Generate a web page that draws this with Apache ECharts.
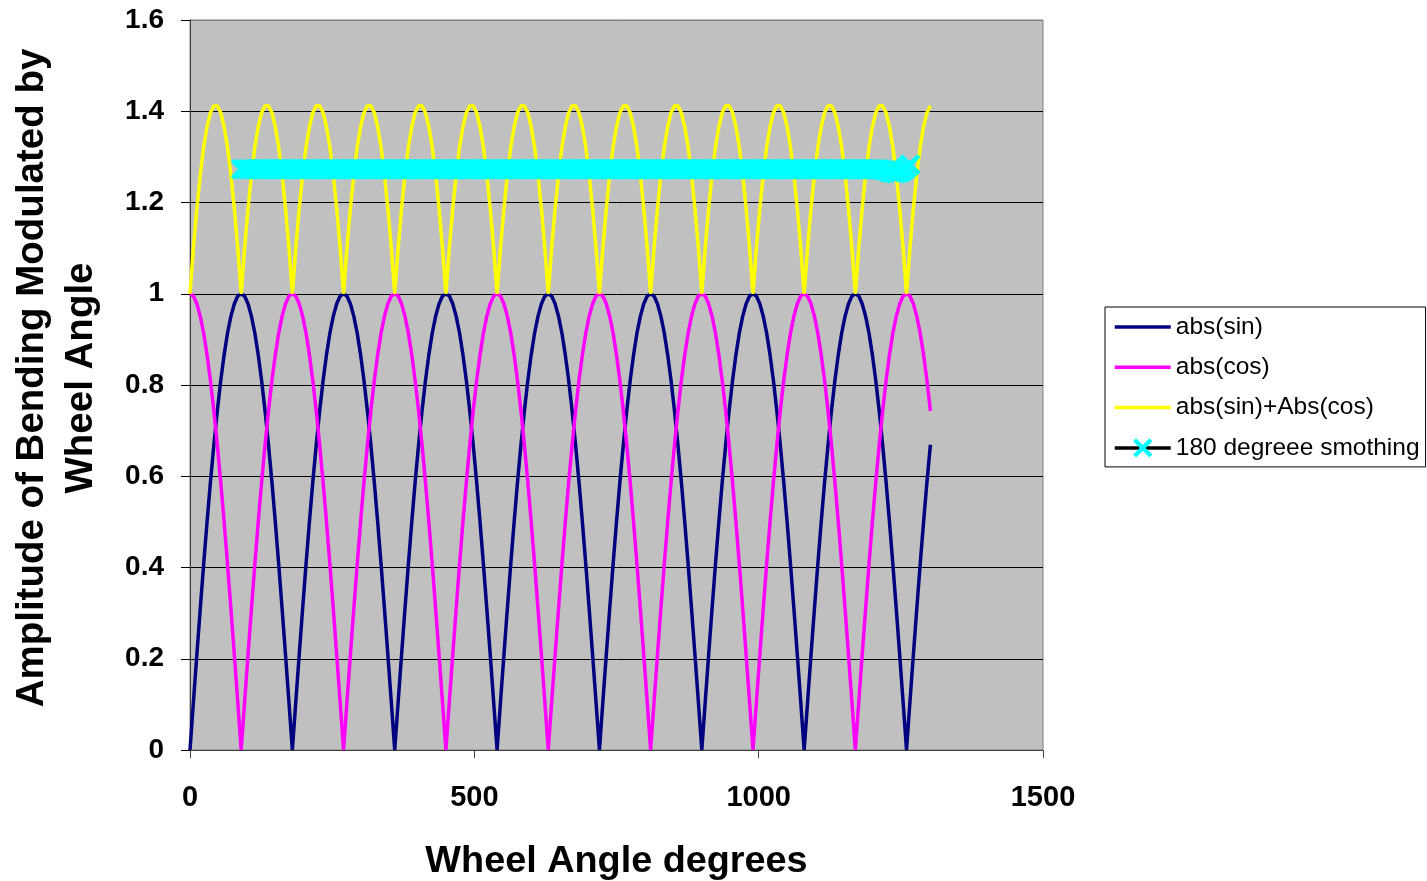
<!DOCTYPE html>
<html>
<head>
<meta charset="utf-8">
<title>Amplitude of Bending Modulated by Wheel Angle</title>
<script src="https://cdn.jsdelivr.net/npm/echarts@6/dist/echarts.min.js"></script>
<style>
    html, body { margin: 0; padding: 0; background: #ffffff; }
    #chart { width: 1427px; height: 881px; }
</style>
</head>
<body>
<div id="chart"></div>
<script>
    'use strict'

    /* Wheel angle samples, degrees */
    var angles = [
        0, 6, 12, 18, 24, 30, 36, 42, 48, 54, 60, 66, 72, 78, 84,
        90, 96, 102, 108, 114, 120, 126, 132, 138, 144, 150, 156, 162, 168, 174,
        180, 186, 192, 198, 204, 210, 216, 222, 228, 234, 240, 246, 252, 258, 264,
        270, 276, 282, 288, 294, 300, 306, 312, 318, 324, 330, 336, 342, 348, 354,
        360, 366, 372, 378, 384, 390, 396, 402, 408, 414, 420, 426, 432, 438, 444,
        450, 456, 462, 468, 474, 480, 486, 492, 498, 504, 510, 516, 522, 528, 534,
        540, 546, 552, 558, 564, 570, 576, 582, 588, 594, 600, 606, 612, 618, 624,
        630, 636, 642, 648, 654, 660, 666, 672, 678, 684, 690, 696, 702, 708, 714,
        720, 726, 732, 738, 744, 750, 756, 762, 768, 774, 780, 786, 792, 798, 804,
        810, 816, 822, 828, 834, 840, 846, 852, 858, 864, 870, 876, 882, 888, 894,
        900, 906, 912, 918, 924, 930, 936, 942, 948, 954, 960, 966, 972, 978, 984,
        990, 996, 1002, 1008, 1014, 1020, 1026, 1032, 1038, 1044, 1050, 1056, 1062, 1068, 1074,
        1080, 1086, 1092, 1098, 1104, 1110, 1116, 1122, 1128, 1134, 1140, 1146, 1152, 1158, 1164,
        1170, 1176, 1182, 1188, 1194, 1200, 1206, 1212, 1218, 1224, 1230, 1236, 1242, 1248, 1254,
        1260, 1266, 1272, 1278, 1284, 1290, 1296, 1302
    ];

    var absSin = [
        0, 0.105, 0.208, 0.309, 0.407, 0.5, 0.588, 0.669, 0.743, 0.809, 0.866, 0.914, 0.951, 0.978, 0.995,
        1, 0.995, 0.978, 0.951, 0.914, 0.866, 0.809, 0.743, 0.669, 0.588, 0.5, 0.407, 0.309, 0.208, 0.105,
        0, 0.105, 0.208, 0.309, 0.407, 0.5, 0.588, 0.669, 0.743, 0.809, 0.866, 0.914, 0.951, 0.978, 0.995,
        1, 0.995, 0.978, 0.951, 0.914, 0.866, 0.809, 0.743, 0.669, 0.588, 0.5, 0.407, 0.309, 0.208, 0.105,
        0, 0.105, 0.208, 0.309, 0.407, 0.5, 0.588, 0.669, 0.743, 0.809, 0.866, 0.914, 0.951, 0.978, 0.995,
        1, 0.995, 0.978, 0.951, 0.914, 0.866, 0.809, 0.743, 0.669, 0.588, 0.5, 0.407, 0.309, 0.208, 0.105,
        0, 0.105, 0.208, 0.309, 0.407, 0.5, 0.588, 0.669, 0.743, 0.809, 0.866, 0.914, 0.951, 0.978, 0.995,
        1, 0.995, 0.978, 0.951, 0.914, 0.866, 0.809, 0.743, 0.669, 0.588, 0.5, 0.407, 0.309, 0.208, 0.105,
        0, 0.105, 0.208, 0.309, 0.407, 0.5, 0.588, 0.669, 0.743, 0.809, 0.866, 0.914, 0.951, 0.978, 0.995,
        1, 0.995, 0.978, 0.951, 0.914, 0.866, 0.809, 0.743, 0.669, 0.588, 0.5, 0.407, 0.309, 0.208, 0.105,
        0, 0.105, 0.208, 0.309, 0.407, 0.5, 0.588, 0.669, 0.743, 0.809, 0.866, 0.914, 0.951, 0.978, 0.995,
        1, 0.995, 0.978, 0.951, 0.914, 0.866, 0.809, 0.743, 0.669, 0.588, 0.5, 0.407, 0.309, 0.208, 0.105,
        0, 0.105, 0.208, 0.309, 0.407, 0.5, 0.588, 0.669, 0.743, 0.809, 0.866, 0.914, 0.951, 0.978, 0.995,
        1, 0.995, 0.978, 0.951, 0.914, 0.866, 0.809, 0.743, 0.669, 0.588, 0.5, 0.407, 0.309, 0.208, 0.105,
        0, 0.105, 0.208, 0.309, 0.407, 0.5, 0.588, 0.669
    ];

    var absCos = [
        1, 0.995, 0.978, 0.951, 0.914, 0.866, 0.809, 0.743, 0.669, 0.588, 0.5, 0.407, 0.309, 0.208, 0.105,
        0, 0.105, 0.208, 0.309, 0.407, 0.5, 0.588, 0.669, 0.743, 0.809, 0.866, 0.914, 0.951, 0.978, 0.995,
        1, 0.995, 0.978, 0.951, 0.914, 0.866, 0.809, 0.743, 0.669, 0.588, 0.5, 0.407, 0.309, 0.208, 0.105,
        0, 0.105, 0.208, 0.309, 0.407, 0.5, 0.588, 0.669, 0.743, 0.809, 0.866, 0.914, 0.951, 0.978, 0.995,
        1, 0.995, 0.978, 0.951, 0.914, 0.866, 0.809, 0.743, 0.669, 0.588, 0.5, 0.407, 0.309, 0.208, 0.105,
        0, 0.105, 0.208, 0.309, 0.407, 0.5, 0.588, 0.669, 0.743, 0.809, 0.866, 0.914, 0.951, 0.978, 0.995,
        1, 0.995, 0.978, 0.951, 0.914, 0.866, 0.809, 0.743, 0.669, 0.588, 0.5, 0.407, 0.309, 0.208, 0.105,
        0, 0.105, 0.208, 0.309, 0.407, 0.5, 0.588, 0.669, 0.743, 0.809, 0.866, 0.914, 0.951, 0.978, 0.995,
        1, 0.995, 0.978, 0.951, 0.914, 0.866, 0.809, 0.743, 0.669, 0.588, 0.5, 0.407, 0.309, 0.208, 0.105,
        0, 0.105, 0.208, 0.309, 0.407, 0.5, 0.588, 0.669, 0.743, 0.809, 0.866, 0.914, 0.951, 0.978, 0.995,
        1, 0.995, 0.978, 0.951, 0.914, 0.866, 0.809, 0.743, 0.669, 0.588, 0.5, 0.407, 0.309, 0.208, 0.105,
        0, 0.105, 0.208, 0.309, 0.407, 0.5, 0.588, 0.669, 0.743, 0.809, 0.866, 0.914, 0.951, 0.978, 0.995,
        1, 0.995, 0.978, 0.951, 0.914, 0.866, 0.809, 0.743, 0.669, 0.588, 0.5, 0.407, 0.309, 0.208, 0.105,
        0, 0.105, 0.208, 0.309, 0.407, 0.5, 0.588, 0.669, 0.743, 0.809, 0.866, 0.914, 0.951, 0.978, 0.995,
        1, 0.995, 0.978, 0.951, 0.914, 0.866, 0.809, 0.743
    ];

    var absSum = [
        1, 1.1, 1.186, 1.26, 1.321, 1.366, 1.397, 1.412, 1.412, 1.397, 1.366, 1.321, 1.26, 1.186, 1.1,
        1, 1.1, 1.186, 1.26, 1.321, 1.366, 1.397, 1.412, 1.412, 1.397, 1.366, 1.321, 1.26, 1.186, 1.1,
        1, 1.1, 1.186, 1.26, 1.321, 1.366, 1.397, 1.412, 1.412, 1.397, 1.366, 1.321, 1.26, 1.186, 1.1,
        1, 1.1, 1.186, 1.26, 1.321, 1.366, 1.397, 1.412, 1.412, 1.397, 1.366, 1.321, 1.26, 1.186, 1.1,
        1, 1.1, 1.186, 1.26, 1.321, 1.366, 1.397, 1.412, 1.412, 1.397, 1.366, 1.321, 1.26, 1.186, 1.1,
        1, 1.1, 1.186, 1.26, 1.321, 1.366, 1.397, 1.412, 1.412, 1.397, 1.366, 1.321, 1.26, 1.186, 1.1,
        1, 1.1, 1.186, 1.26, 1.321, 1.366, 1.397, 1.412, 1.412, 1.397, 1.366, 1.321, 1.26, 1.186, 1.1,
        1, 1.1, 1.186, 1.26, 1.321, 1.366, 1.397, 1.412, 1.412, 1.397, 1.366, 1.321, 1.26, 1.186, 1.1,
        1, 1.1, 1.186, 1.26, 1.321, 1.366, 1.397, 1.412, 1.412, 1.397, 1.366, 1.321, 1.26, 1.186, 1.1,
        1, 1.1, 1.186, 1.26, 1.321, 1.366, 1.397, 1.412, 1.412, 1.397, 1.366, 1.321, 1.26, 1.186, 1.1,
        1, 1.1, 1.186, 1.26, 1.321, 1.366, 1.397, 1.412, 1.412, 1.397, 1.366, 1.321, 1.26, 1.186, 1.1,
        1, 1.1, 1.186, 1.26, 1.321, 1.366, 1.397, 1.412, 1.412, 1.397, 1.366, 1.321, 1.26, 1.186, 1.1,
        1, 1.1, 1.186, 1.26, 1.321, 1.366, 1.397, 1.412, 1.412, 1.397, 1.366, 1.321, 1.26, 1.186, 1.1,
        1, 1.1, 1.186, 1.26, 1.321, 1.366, 1.397, 1.412, 1.412, 1.397, 1.366, 1.321, 1.26, 1.186, 1.1,
        1, 1.1, 1.186, 1.26, 1.321, 1.366, 1.397, 1.412
    ];

    /* 180 degree moving average, only where the window fits */
    var smoothAngles = [
        90, 96, 102, 108, 114, 120, 126, 132, 138, 144, 150, 156, 162, 168, 174,
        180, 186, 192, 198, 204, 210, 216, 222, 228, 234, 240, 246, 252, 258, 264,
        270, 276, 282, 288, 294, 300, 306, 312, 318, 324, 330, 336, 342, 348, 354,
        360, 366, 372, 378, 384, 390, 396, 402, 408, 414, 420, 426, 432, 438, 444,
        450, 456, 462, 468, 474, 480, 486, 492, 498, 504, 510, 516, 522, 528, 534,
        540, 546, 552, 558, 564, 570, 576, 582, 588, 594, 600, 606, 612, 618, 624,
        630, 636, 642, 648, 654, 660, 666, 672, 678, 684, 690, 696, 702, 708, 714,
        720, 726, 732, 738, 744, 750, 756, 762, 768, 774, 780, 786, 792, 798, 804,
        810, 816, 822, 828, 834, 840, 846, 852, 858, 864, 870, 876, 882, 888, 894,
        900, 906, 912, 918, 924, 930, 936, 942, 948, 954, 960, 966, 972, 978, 984,
        990, 996, 1002, 1008, 1014, 1020, 1026, 1032, 1038, 1044, 1050, 1056, 1062, 1068, 1074,
        1080, 1086, 1092, 1098, 1104, 1110, 1116, 1122, 1128, 1134, 1140, 1146, 1152, 1158, 1164,
        1170, 1176, 1182, 1188, 1194, 1200, 1206, 1212, 1218, 1224, 1230, 1236, 1242, 1248, 1254,
        1260, 1266
    ];

    var smoothValues = [
        1.273, 1.273, 1.273, 1.273, 1.273, 1.273, 1.273, 1.273, 1.273, 1.273, 1.273, 1.273, 1.273, 1.273, 1.273,
        1.273, 1.273, 1.273, 1.273, 1.273, 1.273, 1.273, 1.273, 1.273, 1.273, 1.273, 1.273, 1.273, 1.273, 1.273,
        1.273, 1.273, 1.273, 1.273, 1.273, 1.273, 1.273, 1.273, 1.273, 1.273, 1.273, 1.273, 1.273, 1.273, 1.273,
        1.273, 1.273, 1.273, 1.273, 1.273, 1.273, 1.273, 1.273, 1.273, 1.273, 1.273, 1.273, 1.273, 1.273, 1.273,
        1.273, 1.273, 1.273, 1.273, 1.273, 1.273, 1.273, 1.273, 1.273, 1.273, 1.273, 1.273, 1.273, 1.273, 1.273,
        1.273, 1.273, 1.273, 1.273, 1.273, 1.273, 1.273, 1.273, 1.273, 1.273, 1.273, 1.273, 1.273, 1.273, 1.273,
        1.273, 1.273, 1.273, 1.273, 1.273, 1.273, 1.273, 1.273, 1.273, 1.273, 1.273, 1.273, 1.273, 1.273, 1.273,
        1.273, 1.273, 1.273, 1.273, 1.273, 1.273, 1.273, 1.273, 1.273, 1.273, 1.273, 1.273, 1.273, 1.273, 1.273,
        1.273, 1.273, 1.273, 1.273, 1.273, 1.273, 1.273, 1.273, 1.273, 1.273, 1.273, 1.273, 1.273, 1.273, 1.273,
        1.273, 1.273, 1.273, 1.273, 1.273, 1.273, 1.273, 1.273, 1.273, 1.273, 1.273, 1.273, 1.273, 1.273, 1.273,
        1.273, 1.273, 1.273, 1.273, 1.273, 1.273, 1.273, 1.273, 1.273, 1.273, 1.273, 1.273, 1.273, 1.273, 1.273,
        1.273, 1.273, 1.273, 1.273, 1.273, 1.273, 1.273, 1.273, 1.273, 1.273, 1.273, 1.273, 1.273, 1.273, 1.273,
        1.273, 1.273, 1.273, 1.273, 1.273, 1.273, 1.273, 1.273, 1.272, 1.270, 1.267, 1.265, 1.264, 1.266, 1.270,
        1.276, 1.283
    ];

    var seriesNames = ['abs(sin)', 'abs(cos)', 'abs(sin)+Abs(cos)', '180 degreee smothing'];
    var yTicks = ['0', '0.2', '0.4', '0.6', '0.8', '1', '1.2', '1.4', '1.6'];

    function pairs(xs, ys) {
        return xs.map(function (x, i) { return [x, ys[i]]; });
    }

    var font = '"Liberation Sans", Arial, sans-serif';
    // filled cross, thick enough that the dense markers merge into a band
    var crossMark = 'path://M0,3L3,0L10,7L17,0L20,3L13,10L20,17L17,20L10,13L3,20L0,17L7,10Z';

    var chart = echarts.init(document.getElementById('chart'));

    chart.setOption({
        animation: false,
        textStyle: { fontFamily: font },
        grid: {
            left: 190,
            top: 20,
            width: 853,
            height: 730,
            outerBoundsMode: 'none',
            containLabel: false,
            show: true,
            backgroundColor: '#C0C0C0',
            borderColor: '#808080',
            borderWidth: 1
        },
        legend: {
            orient: 'vertical',
            left: 1105,
            top: 307,
            padding: [7, 6, 6, 8],
            backgroundColor: '#ffffff',
            borderColor: '#000000',
            borderWidth: 1,
            borderRadius: 0,
            itemWidth: 56,
            itemHeight: 24,
            itemGap: 14.3,
            selectedMode: false,
            data: [
                { name: seriesNames[0], itemStyle: { opacity: 0 }, lineStyle: { width: 3.5 } },
                { name: seriesNames[1], itemStyle: { opacity: 0 }, lineStyle: { width: 3.5 } },
                { name: seriesNames[2], itemStyle: { opacity: 0 }, lineStyle: { width: 3.5 } },
                { name: seriesNames[3], lineStyle: { width: 3.5, color: '#000' } }
            ],
            textStyle: { fontSize: 24.5, color: '#000', lineHeight: 26, fontFamily: font }
        },
        xAxis: {
            type: 'value',
            min: 0,
            max: 1500,
            interval: 500,
            name: 'Wheel Angle degrees',
            nameLocation: 'middle',
            nameGap: 93,
            nameTextStyle: { fontSize: 37.8, fontWeight: 'bold', color: '#000', fontFamily: font },
            axisLine: { lineStyle: { color: '#404040', width: 1 } },
            axisTick: { show: true, length: 8, lineStyle: { color: '#404040' } },
            axisLabel: {
                fontSize: 29,
                fontWeight: 'bold',
                color: '#000',
                margin: 33,
                fontFamily: font,
                formatter: function (v) { return String(v); }
            },
            splitLine: { show: false }
        },
        yAxis: {
            type: 'value',
            min: 0,
            max: 1.6,
            interval: 0.2,
            name: 'Amplitude of Bending Modulated by\nWheel Angle',
            nameLocation: 'middle',
            nameGap: 84,
            nameTextStyle: {
                fontSize: 38.5,
                fontWeight: 'bold',
                color: '#000',
                lineHeight: 49,
                padding: [0, 0, 0, 14],
                fontFamily: font
            },
            axisLine: { show: true, lineStyle: { color: '#404040', width: 1 } },
            axisTick: { show: true, length: 9, lineStyle: { color: '#000' } },
            axisLabel: {
                fontSize: 28,
                fontWeight: 'bold',
                color: '#000',
                margin: 26,
                fontFamily: font,
                formatter: function (v) {
                    return yTicks[Math.round(v / 0.2)];
                }
            },
            splitLine: {
                show: true,
                lineStyle: {
                    color: ['#000', '#000', '#000', '#000', '#000', '#000', '#000', '#000', '#808080'],
                    width: 1
                }
            }
        },
        series: [
            {
                name: seriesNames[0],
                type: 'line',
                data: pairs(angles, absSin),
                symbol: 'none',
                lineStyle: { color: '#000080', width: 3.5 },
                itemStyle: { color: '#000080' }
            },
            {
                name: seriesNames[1],
                type: 'line',
                data: pairs(angles, absCos),
                symbol: 'none',
                lineStyle: { color: '#FF00FF', width: 3.5 },
                itemStyle: { color: '#FF00FF' }
            },
            {
                name: seriesNames[2],
                type: 'line',
                data: pairs(angles, absSum),
                symbol: 'none',
                lineStyle: { color: '#FFFF00', width: 3.5 },
                itemStyle: { color: '#FFFF00' }
            },
            {
                name: seriesNames[3],
                type: 'line',
                data: pairs(smoothAngles, smoothValues),
                symbol: crossMark,
                symbolSize: 21,
                showAllSymbol: true,
                lineStyle: { color: '#000000', width: 2 },
                itemStyle: { color: '#00FFFF' }
            }
        ]
    });
</script>
</body>
</html>
